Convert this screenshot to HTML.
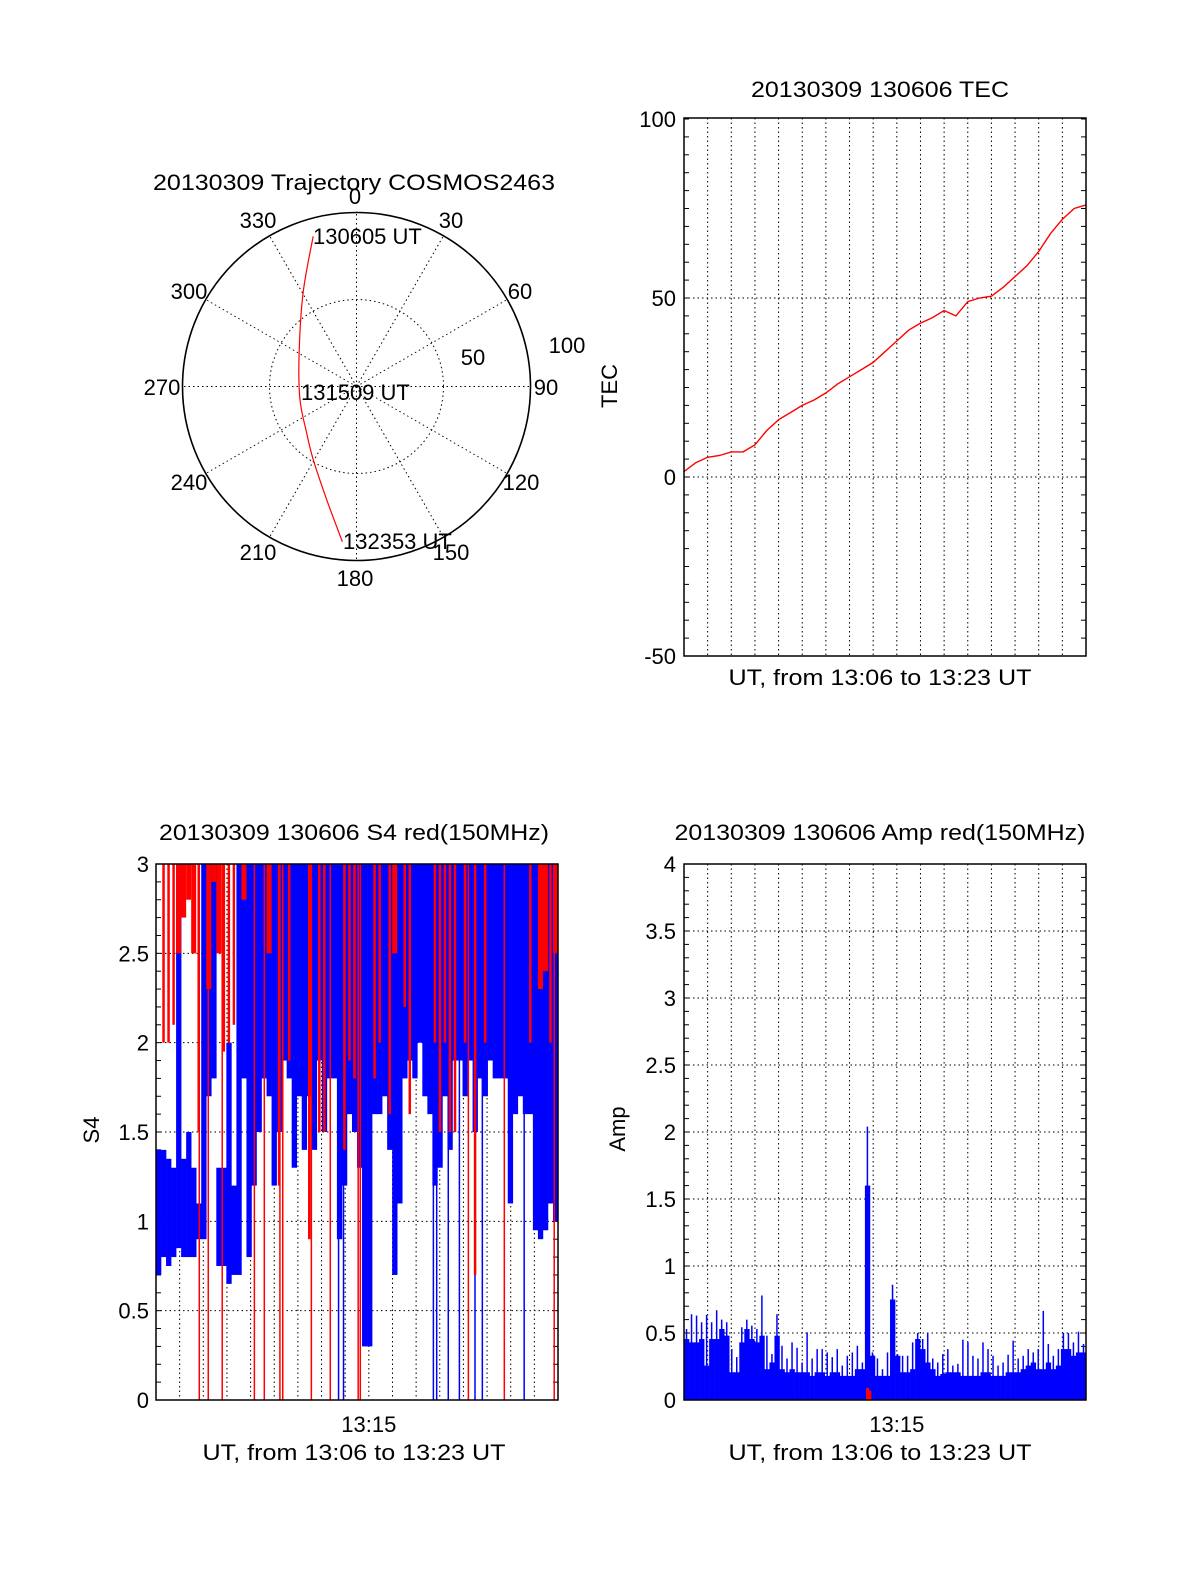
<!DOCTYPE html>
<html><head><meta charset="utf-8"><style>
html,body{margin:0;padding:0;background:#fff;}
svg{display:block;font-family:"Liberation Sans",Arial,sans-serif;}
text{fill:#000;font-size:22px;}
</style></head><body>
<svg id="fig" width="1200" height="1575" viewBox="0 0 1200 1575" xmlns="http://www.w3.org/2000/svg">
<rect x="0" y="0" width="1200" height="1575" fill="#fff"/>

<g id="polar">
<text x="354" y="190" text-anchor="middle" textLength="402" lengthAdjust="spacingAndGlyphs">20130309 Trajectory COSMOS2463</text>
</g>

<g id="tec">
<text x="880" y="97" text-anchor="middle" textLength="258" lengthAdjust="spacingAndGlyphs">20130309 130606 TEC</text>
<text x="880" y="685" text-anchor="middle" textLength="303" lengthAdjust="spacingAndGlyphs">UT, from 13:06 to 13:23 UT</text>
<text x="0" y="0" transform="translate(617,386) rotate(-90)" text-anchor="middle">TEC</text>
</g>

<g id="s4">
<text x="354" y="840" text-anchor="middle" textLength="390" lengthAdjust="spacingAndGlyphs">20130309 130606 S4 red(150MHz)</text>
<text x="354" y="1460" text-anchor="middle" textLength="303" lengthAdjust="spacingAndGlyphs">UT, from 13:06 to 13:23 UT</text>
<text x="0" y="0" transform="translate(99,1130) rotate(-90)" text-anchor="middle">S4</text>
</g>

<g id="amp">
<text x="880" y="840" text-anchor="middle" textLength="411" lengthAdjust="spacingAndGlyphs">20130309 130606 Amp red(150MHz)</text>
<text x="880" y="1460" text-anchor="middle" textLength="303" lengthAdjust="spacingAndGlyphs">UT, from 13:06 to 13:23 UT</text>
<text x="0" y="0" transform="translate(625,1129) rotate(-90)" text-anchor="middle">Amp</text>
</g>
</svg>
<script>
const trajAz = [343.9, 330.4, 300.6, 257.8, 227.4, 210.9, 194.9, 185.2];
const trajDist = [89.8, 62.1, 38.3, 33.3, 39.0, 48.6, 67.0, 89.6];
const trajLabels = ["130605 UT", "131509 UT", "132353 UT"];
const azLabels = ["0","30","60","90","120","150","180","210","240","270","300","330"];

const tecT = [0,0.5,1,1.5,2,2.5,3,3.5,4,4.5,5,5.5,6,6.5,7,7.5,8,8.5,9,9.5,10,10.5,11,11.5,12,12.5,13,13.5,14,14.5,15,15.5,16,16.5,17];
const tecV = [1.5,4,5.5,6,7,7,9,13,16,18,20,21.5,23.5,26,28,30,32,35,38,41,43,44.5,46.5,45,49,50,50.5,53,56,59,63,68,72,75,76];
const tecTicks = [100, 50, 0, -50];

const s4BlueLo = [0.7,0.8,0.75,0.8,0.85,0.8,0.8,0.8,0.9,0.9,
 1.7,1.8,0.75,0.75,0.65,0.7,0.7,1.8,0.8,1.2,
 1.5,1.8,1.7,1.2,1.5,1.9,1.8,1.3,1.7,1.4,
 1.7,1.4,1.9,1.5,1.8,1.8,0.9,1.2,1.6,1.5,
 1.3,0.3,0.3,1.6,1.6,1.7,1.4,0.7,1.1,1.8,
 1.9,1.8,2.0,1.7,1.6,1.2,1.3,1.7,1.4,1.9,
 1.9,1.7,1.9,1.5,1.8,1.7,1.9,1.8,1.8,1.8,
 1.1,1.6,1.7,1.6,1.6,0.95,0.9,0.95,1.1,1.0];
const s4BlueHi = [1.4,1.4,1.35,1.3,3,1.35,1.5,1.3,1.1,3,
 3,3,1.3,1.3,2.0,1.2,3,3,3,3,
 3,3,3,3,3,3,3,3,3,3, 3,3,3,3,3,3,3,3,3,3,
 3,3,3,3,3,3,3,3,3,3, 3,3,3,3,3,3,3,3,3,3,
 3,3,3,3,3,3,3,3,3,3, 3,3,3,3,3,3,3,3,3,3];
const s4RedLo = [3,2.0,2.0,2.1,2.5,2.7,2.8,2.5,1.5,3,
 2.3,2.9,2.5,1.95,2.0,2.1,3,2.8,3,3,
 3,3,2.5,3,1.2,3,1.9,3,3,3,
 0.9,3,1.5,1.5,3,3,3,1.4,1.9,1.8,
 3,3,3,1.8,2.0,3,1.6,2.5,3,2.2,
 1.6,3,3,3,3,2.0,1.5,2.0,1.5,1.5,
 3,2.0,3,0.7,3,2.0,3,3,3,3,
 3,3,3,3,2.0,3,2.3,2.4,2.0,2.5];
const s4RedSpikes = [1.83,2.21,2.80,4.16,4.58,5.24,5.36,6.57,7.37,8.55,8.64,13.21,14.73,16.84];
const s4BlueSpikes = [7.72,7.93,11.73,11.87,12.36,12.83,13.49,13.80,15.57];
const s4Ticks = [3, 2.5, 2, 1.5, 1, 0.5, 0];
const s4TickLabels = ["3","2.5","2","1.5","1","0.5","0"];

const ampFill = [0.455,0.43,0.43,0.455,0.257,0.455,0.455,0.53,0.48,0.207,
 0.207,0.43,0.53,0.455,0.43,0.48,0.23,0.28,0.48,0.23,
 0.207,0.23,0.207,0.207,0.207,0.18,0.207,0.207,0.18,0.207,
 0.207,0.18,0.18,0.18,0.23,0.23,1.6,0.33,0.18,0.18,
 0.18,0.75,0.33,0.207,0.207,0.23,0.455,0.38,0.28,0.23,
 0.18,0.194,0.207,0.207,0.207,0.18,0.18,0.18,0.18,0.207,
 0.207,0.18,0.18,0.18,0.207,0.207,0.207,0.23,0.257,0.28,
 0.23,0.23,0.28,0.23,0.257,0.38,0.38,0.33,0.355,0.355];
const ampPeak = [0.53,0.64,0.63,0.58,0.635,0.58,0.67,0.60,0.58,0.38,
 0.32,0.543,0.60,0.555,0.53,0.78,0.48,0.343,0.64,0.405,
 0.31,0.43,0.39,0.28,0.505,0.31,0.38,0.38,0.355,0.32,
 0.38,0.257,0.33,0.355,0.405,0.28,2.04,0.355,0.31,0.23,
 0.355,0.86,0.343,0.33,0.33,0.43,0.5,0.455,0.5,0.31,
 0.28,0.343,0.38,0.257,0.27,0.45,0.43,0.33,0.31,0.43,
 0.38,0.33,0.257,0.28,0.338,0.443,0.31,0.33,0.38,0.355,
 0.38,0.665,0.418,0.33,0.38,0.5,0.5,0.43,0.51,0.418];
const ampRedT = [7.76, 7.86];
const ampRedV = [0.09, 0.07];
const ampTicks = [4, 3.5, 3, 2.5, 2, 1.5, 1, 0.5, 0];
const ampTickLabels = ["4","3.5","3","2.5","2","1.5","1","0.5","0"];

const NS = "http://www.w3.org/2000/svg";
function mk(parent, tag, attrs) {
  const e = document.createElementNS(NS, tag);
  for (const k in attrs) e.setAttribute(k, attrs[k]);
  parent.appendChild(e);
  return e;
}
const SPAN = 17, NB = 80;
const PW = 402;
const tecX = t => 684 + t * PW / SPAN;
const tecY = v => 477 - v * 3.58;
const s4X = t => 156 + t * PW / SPAN;
const s4Y = v => 1400 - v * 536 / 3;
const ampX = t => 684 + t * PW / SPAN;
const ampY = v => 1400 - v * 134;
const binW = SPAN / NB;

function frame(g, x0, y0, x1, y1, yTicks, yScale, minorStep, vmin, vmax, name) {
  for (let m = 1; m < SPAN; m++) {
    const x = x0 + m * PW / SPAN;
    const l = mk(g, "line", {x1: x, x2: x, y1: y0, y2: y1, stroke: "#000", "stroke-width": 1, "stroke-dasharray": "1.5,3"});
    
    
  }
  yTicks.forEach(v => {
    const y = yScale(v);
    if (v !== vmin && v !== vmax) {
      const l = mk(g, "line", {x1: x0, x2: x1, y1: y, y2: y, stroke: "#000", "stroke-width": 1, "stroke-dasharray": "1.5,3"});
      
      
    }
  });
  for (let v = vmin; v <= vmax + 1e-9; v += minorStep) {
    const y = yScale(v);
    const t1 = mk(g, "line", {x1: x0, x2: x0 + 5, y1: y, y2: y, stroke: "#000", "stroke-width": 1});
    
    
    const t2 = mk(g, "line", {x1: x1 - 5, x2: x1, y1: y, y2: y, stroke: "#000", "stroke-width": 1});
    
    
  }
}
function border(g, x0, y0, x1, y1, name) {
  const r = mk(g, "rect", {x: x0, y: y0, width: x1 - x0, height: y1 - y0, fill: "none", stroke: "#000", "stroke-width": 1.5});
  
  
}
function yLabels(g, ticks, labels, scale, xr, name) {
  ticks.forEach((v, i) => {
    const t = mk(g, "text", {x: xr, y: scale(v) + 8, "text-anchor": "end"});
    t.textContent = labels[i];
    
    
  });
}

(function () {
  const g = document.getElementById("polar");
  const cx = 356.5, cy = 386.5, R = 174;
  const pr = d => d / 100 * R;
  for (let a = 0; a < 360; a += 30) {
    const rad = a * Math.PI / 180;
    const l = mk(g, "line", {x1: cx, y1: cy, x2: cx + R * Math.sin(rad), y2: cy - R * Math.cos(rad), stroke: "#000", "stroke-width": 1, "stroke-dasharray": "1.5,3"});
    
    
  }
  const ic = mk(g, "circle", {cx: cx, cy: cy, r: pr(50), fill: "none", stroke: "#000", "stroke-width": 1, "stroke-dasharray": "1.5,3"});
  
  
  const oc = mk(g, "circle", {cx: cx, cy: cy, r: R, fill: "none", stroke: "#000", "stroke-width": 1.6});
  
  
  const labelPos = [[355,204],[451,228],[520,299],[546,395],[521,490],[451,560],[355,586],[258,560],[189,490],[162,395],[189,299],[258,228]];
  azLabels.forEach((s, i) => {
    const t = mk(g, "text", {x: labelPos[i][0], y: labelPos[i][1], "text-anchor": "middle"});
    t.textContent = s;
    
    
  });
  const t100 = mk(g, "text", {x: 567, y: 353, "text-anchor": "middle"}); t100.textContent = "100";
  
  
  const t50 = mk(g, "text", {x: 473, y: 365, "text-anchor": "middle"}); t50.textContent = "50";
  
  
  const pts = trajAz.map((a, i) => {
    const rad = a * Math.PI / 180;
    return [cx + pr(trajDist[i]) * Math.sin(rad), cy - pr(trajDist[i]) * Math.cos(rad)];
  });
  let d = "M" + pts[0][0] + " " + pts[0][1];
  for (let i = 1; i < pts.length; i++) {
    const p0 = pts[Math.max(0, i - 2)], p1 = pts[i - 1], p2 = pts[i], p3 = pts[Math.min(pts.length - 1, i + 1)];
    const c1 = [p1[0] + (p2[0] - p0[0]) / 6, p1[1] + (p2[1] - p0[1]) / 6];
    const c2 = [p2[0] - (p3[0] - p1[0]) / 6, p2[1] - (p3[1] - p1[1]) / 6];
    d += " C" + c1 + " " + c2 + " " + p2;
  }
  const tr = mk(g, "path", {d: d, fill: "none", stroke: "#f00", "stroke-width": 1.2});
  
  
  const lp = [[313, 244], [301, 400], [343, 549]];
  trajLabels.forEach((s, i) => {
    const t = mk(g, "text", {x: lp[i][0], y: lp[i][1]});
    t.textContent = s;
    
    
  });
})();

(function () {
  const g = document.getElementById("tec");
  frame(g, 684, 118, 1086, 656, tecTicks, tecY, 5, -50, 100, "tec");
  yLabels(g, tecTicks, tecTicks.map(String), tecY, 676, "tec");
  const d = tecT.map((t, i) => (i ? "L" : "M") + tecX(t).toFixed(1) + " " + tecY(tecV[i]).toFixed(1)).join(" ");
  const p = mk(g, "path", {d: d, fill: "none", stroke: "#f00", "stroke-width": 1.4});
  
  
  border(g, 684, 118, 1086, 656, "tec");
})();

(function () {
  const g = document.getElementById("s4");
  frame(g, 156, 864, 558, 1400, s4Ticks, s4Y, 0.1, 0, 3, "s4");
  const bw = PW / NB;
  s4BlueLo.forEach((lo, i) => {
    const hi = s4BlueHi[i];
    const r = mk(g, "rect", {x: s4X(i * binW), y: s4Y(hi), width: bw + 0.3, height: s4Y(lo) - s4Y(hi), fill: "#00f"});
    
    
  });
  s4BlueSpikes.forEach(t => {
    const l = mk(g, "line", {x1: s4X(t), x2: s4X(t), y1: s4Y(3), y2: s4Y(0), stroke: "#00f", "stroke-width": 1.5});
    
    
  });
  s4RedLo.forEach((lo, i) => {
    if (lo >= 3) return;
    const w = lo >= 2.3 ? bw : 2.5;
    const r = mk(g, "rect", {x: s4X(i * binW) + (bw - w) / 2, y: s4Y(3), width: w, height: s4Y(lo) - s4Y(3), fill: "#f00"});
    
    
  });
  s4RedSpikes.forEach(t => {
    const l = mk(g, "line", {x1: s4X(t), x2: s4X(t), y1: s4Y(3), y2: s4Y(0), stroke: "#f00", "stroke-width": 1.5});
    
    
  });
  yLabels(g, s4Ticks, s4TickLabels, s4Y, 149, "s4");
  const xl = mk(g, "text", {x: s4X(9), y: 1432, "text-anchor": "middle"});
  xl.textContent = "13:15";
  
  
  border(g, 156, 864, 558, 1400, "s4");
})();

(function () {
  const g = document.getElementById("amp");
  frame(g, 684, 864, 1086, 1400, ampTicks, ampY, 0.1, 0, 4, "amp");
  const bw = PW / NB;
  ampFill.forEach((v, i) => {
    const r = mk(g, "rect", {x: ampX(i * binW), y: ampY(v), width: bw + 0.3, height: ampY(0) - ampY(v), fill: "#00f"});
    
    
  });
  ampPeak.forEach((v, i) => {
    const x = ampX((i + 0.5) * binW);
    const l = mk(g, "line", {x1: x, x2: x, y1: ampY(v), y2: ampY(0), stroke: "#00f", "stroke-width": 1.5});
    
    
  });
  ampRedT.forEach((t, i) => {
    const r = mk(g, "rect", {x: ampX(t) - 1.5, y: ampY(ampRedV[i]), width: 3, height: ampY(0) - ampY(ampRedV[i]), fill: "#f00"});
    
    
  });
  yLabels(g, ampTicks, ampTickLabels, ampY, 676, "amp");
  const xl = mk(g, "text", {x: ampX(9), y: 1432, "text-anchor": "middle"});
  xl.textContent = "13:15";
  
  
  border(g, 684, 864, 1086, 1400, "amp");
})();
</script>
</body></html>
